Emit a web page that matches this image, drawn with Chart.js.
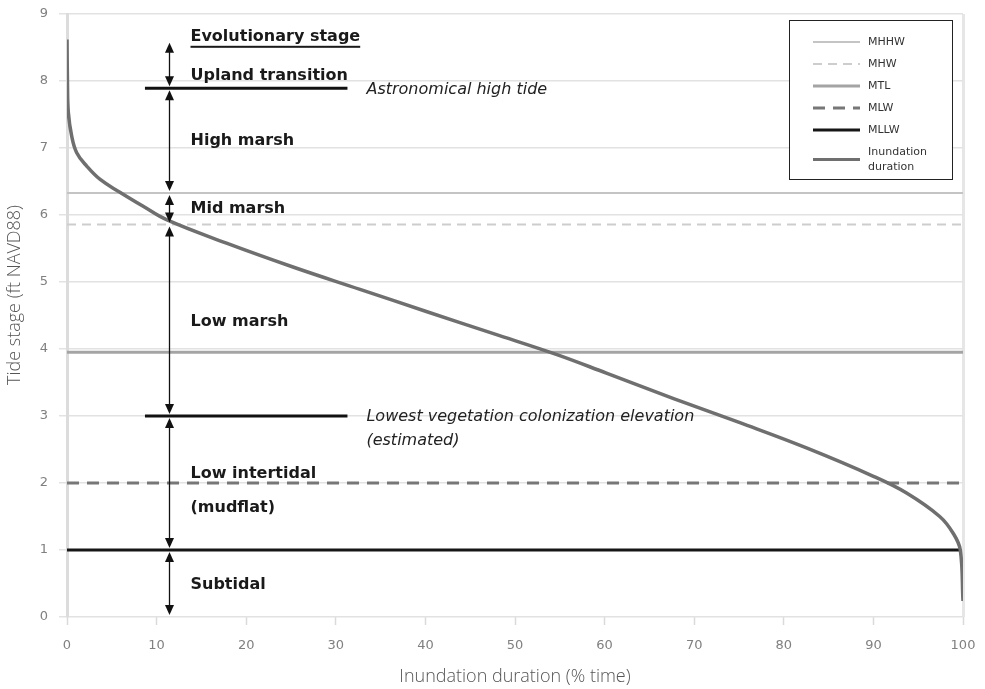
<!DOCTYPE html>
<html>
<head>
<meta charset="utf-8">
<script src="https://cdn.jsdelivr.net/npm/chart.js@4.4.1/dist/chart.umd.min.js"></script>
<style>
  html, body { margin: 0; padding: 0; background: #fff; }
  #wrap { width: 985px; height: 689px; }
</style>
</head>
<body>
<div id="wrap"><canvas id="chart"></canvas></div>
<script>
// inundation duration curve (x = % time, y = stage ft NAVD88)
const durationPct = [0, 0.05, 0.15, 0.52, 1.08, 2.2, 3.7, 5.9, 8.5, 11.1, 17.8, 25.3, 32.7, 40.1, 47.6, 54.6, 60.2, 67.7, 75.1, 82.6, 90.0, 93.7, 97.4, 98.9, 99.7, 100];
const tideStage = [8.62, 8.0, 7.53, 7.18, 6.93, 6.73, 6.53, 6.34, 6.13, 5.93, 5.58, 5.22, 4.89, 4.56, 4.23, 3.92, 3.64, 3.26, 2.90, 2.52, 2.10, 1.85, 1.50, 1.25, 1.0, 0.24];

// tidal datums
const datumNames = ['MHHW', 'MHW', 'MTL', 'MLW', 'MLLW'];
const datumLevels = [6.33, 5.86, 3.95, 2.0, 1.0];
const datumEndPct = [100, 100, 100, 100, 99.7];

// reference elevations marked with short black lines
const markerNames = [['Astronomical high tide'], ['Lowest vegetation colonization elevation', '(estimated)']];
const markerLevels = [7.89, 3.0];
const markerSpanPct = [8.7, 31.3];

// evolutionary stages
const stageTitle = 'Evolutionary stage';
const stageNames = [['Upland transition'], ['High marsh'], ['Mid marsh'], ['Low marsh'], ['Low intertidal', '(mudflat)'], ['Subtidal']];
const stageTops = [8.6, 7.89, 6.33, 5.86, 3.0, 1.0];
const stageBottoms = [7.89, 6.33, 5.86, 3.0, 1.0, 0];
const arrowPct = 11.4;

const xTickValues = [0, 10, 20, 30, 40, 50, 60, 70, 80, 90, 100];
const yTickValues = [0, 1, 2, 3, 4, 5, 6, 7, 8, 9];

// styles for the datum lines
const datumStyles = [
    { color: '#c4c4c4', width: 2, dash: [] },
    { color: '#cdcdcd', width: 2, dash: [9, 6] },
    { color: '#a4a4a4', width: 3, dash: [] },
    { color: '#777777', width: 3, dash: [12, 8] },
    { color: '#161616', width: 3, dash: [] }
];

var datasets = datumNames.map(function (name, i) {
    return {
        label: name,
        data: [{ x: 0, y: datumLevels[i] }, { x: datumEndPct[i], y: datumLevels[i] }],
        borderColor: datumStyles[i].color,
        borderWidth: datumStyles[i].width,
        borderDash: datumStyles[i].dash,
        pointRadius: 0,
        order: 2
    };
});
markerLevels.forEach(function (lvl) {
    datasets.push({
        data: [{ x: markerSpanPct[0], y: lvl }, { x: markerSpanPct[1], y: lvl }],
        borderColor: '#111',
        borderWidth: 3,
        pointRadius: 0,
        order: 1
    });
});
datasets.push({
    label: 'Inundation\nduration',
    data: durationPct.map((x, i) => ({ x: x, y: tideStage[i] })),
    borderColor: '#6f6f6f',
    borderWidth: 3.5,
    pointRadius: 0,
    tension: 0.4,
    order: 0
});

function arrowHead(ctx, x, y, dir) {
    ctx.beginPath();
    ctx.moveTo(x, y);
    ctx.lineTo(x - 4.5, y - dir * 10);
    ctx.lineTo(x + 4.5, y - dir * 10);
    ctx.closePath();
    ctx.fill();
}

const annotations = {
    id: 'annotations',
    afterDatasetsDraw(chart) {
        const ctx = chart.ctx;
        const xs = chart.scales.x, ys = chart.scales.y;
        const area = chart.chartArea;
        ctx.save();

        // stage arrows
        const ax = Math.round(xs.getPixelForValue(arrowPct)) + 0.5;
        ctx.strokeStyle = '#111';
        ctx.fillStyle = '#111';
        ctx.lineWidth = 1.3;
        stageTops.forEach(function (top, i) {
            const y1 = ys.getPixelForValue(top) + 2;
            const y2 = ys.getPixelForValue(stageBottoms[i]) - 2;
            ctx.beginPath();
            ctx.moveTo(ax, y1 + 6);
            ctx.lineTo(ax, y2 - 6);
            ctx.stroke();
            arrowHead(ctx, ax, y1, -1);
            arrowHead(ctx, ax, y2, 1);
        });

        // stage labels
        const lx = ax + 21;
        const nudge = [11, 0, 0, 2, -9, 1];
        ctx.font = 'bold 16px "DejaVu Sans"';
        ctx.fillStyle = '#1a1a1a';
        ctx.textAlign = 'left';
        ctx.textBaseline = 'middle';
        stageNames.forEach(function (lines, i) {
            const mid = (ys.getPixelForValue(stageTops[i]) + ys.getPixelForValue(stageBottoms[i])) / 2 + nudge[i];
            lines.forEach(function (t, j) {
                ctx.fillText(t, lx, mid + j * 34);
            });
        });
        const ty = ys.getPixelForValue(stageTops[0]) - 4;
        ctx.fillText(stageTitle, lx, ty);
        const tw = ctx.measureText(stageTitle).width;
        ctx.fillRect(lx, ty + 9, tw, 2);

        // marker notes
        const nx = xs.getPixelForValue(markerSpanPct[1]) + 19;
        ctx.font = 'italic 16px "DejaVu Sans"';
        ctx.fillStyle = '#222';
        markerNames.forEach(function (lines, i) {
            const y = ys.getPixelForValue(markerLevels[i]) + 1;
            lines.forEach(function (t, j) {
                ctx.fillText(t, nx, y + j * 24);
            });
        });

        // y axis title
        ctx.save();
        ctx.translate(15, 295);
        ctx.rotate(-Math.PI / 2);
        ctx.font = '300 18px "Open Sans"';
        ctx.fillStyle = '#555';
        ctx.textAlign = 'center';
        ctx.fillText('Tide stage (ft NAVD88)', 0, 0);
        ctx.restore();

        // legend box
        const bw = 163, bh = 159;
        const bx = area.right - 11 - bw, by = area.top + 6;
        ctx.fillStyle = '#fff';
        ctx.fillRect(bx, by, bw, bh);
        ctx.strokeStyle = '#222';
        ctx.lineWidth = 1;
        ctx.setLineDash([]);
        ctx.strokeRect(bx + 0.5, by + 0.5, bw, bh);
        ctx.font = '11px "DejaVu Sans"';
        let row = by + 22;
        chart.data.datasets.forEach(function (ds) {
            if (!ds.label) return;
            const lines = ds.label.split('\n');
            const cy = row + (lines.length - 1) * 7.5;
            ctx.strokeStyle = ds.borderColor;
            ctx.lineWidth = Math.min(ds.borderWidth, 3);
            ctx.setLineDash(ds.borderDash || []);
            ctx.beginPath();
            ctx.moveTo(bx + 24, cy);
            ctx.lineTo(bx + 71, cy);
            ctx.stroke();
            ctx.setLineDash([]);
            ctx.fillStyle = '#333';
            lines.forEach(function (t, j) {
                ctx.fillText(t, bx + 79, row + j * 15);
            });
            row += 22;
        });
        ctx.restore();
    }
};

const tickFont = { family: 'DejaVu Sans', size: 13 };

new Chart(document.getElementById('chart'), {
    type: 'line',
    data: { datasets: datasets },
    plugins: [annotations],
    options: {
        responsive: true,
        maintainAspectRatio: false,
        animation: false,
        layout: { padding: { top: 14, right: 22, left: 0, bottom: 0 } },
        plugins: { legend: { display: false }, tooltip: { enabled: false } },
        scales: {
            x: {
                type: 'linear',
                min: 0,
                max: 100,
                afterBuildTicks: s => { s.ticks = xTickValues.map(v => ({ value: v })); },
                afterFit: s => { s.height = 72; s.paddingLeft = 0; s.paddingRight = 0; },
                ticks: { font: tickFont, color: '#808080', padding: 13, maxRotation: 0 },
                grid: {
                    color: c => (c.tick && c.tick.value === 100 ? '#e6e6e6' : 'rgba(0,0,0,0)'),
                    lineWidth: 3,
                    tickColor: '#dadada',
                    tickWidth: 1.5,
                    tickLength: 8
                },
                border: { display: false },
                title: {
                    display: true,
                    text: 'Inundation duration (% time)',
                    font: { family: 'Open Sans', size: 18, weight: 300 },
                    color: '#555',
                    padding: { top: 2, bottom: 1 }
                }
            },
            y: {
                min: 0,
                max: 9,
                afterBuildTicks: s => { s.ticks = yTickValues.map(v => ({ value: v })); },
                afterFit: s => { s.width = 67; s.paddingTop = 0; s.paddingBottom = 0; },
                ticks: { font: tickFont, color: '#808080', padding: 11 },
                grid: { color: '#e2e2e2', lineWidth: 1.5, tickLength: 8 },
                border: { color: '#dcdcdc', width: 3 }
            }
        }
    }
});
</script>
</body>
</html>
